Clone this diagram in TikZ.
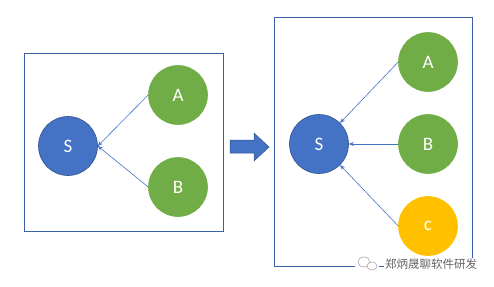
\documentclass[tikz,border=0pt]{standalone}
\usepackage{fontspec}
\setmainfont{Carlito}
\newfontfamily\cjk{Noto Sans CJK SC}
\usetikzlibrary{arrows.meta}
\definecolor{sBlue}{RGB}{68,114,196}
\definecolor{sBlueD}{RGB}{47,82,143}
\definecolor{nGreen}{RGB}{112,173,71}
\definecolor{cYel}{RGB}{255,192,0}
\definecolor{wmGray}{RGB}{100,100,100}

\begin{document}
\begin{tikzpicture}[x=1pt,y=-1pt]
  \tikzset{nd/.style={circle,fill=#1,draw=#1,line width=0.6pt,minimum size=59pt,inner sep=0pt,text=white,font=\fontsize{19}{19}\selectfont},
    sn/.style={nd=sBlue,draw=sBlueD},
    lnk/.style={-{Stealth[length=5pt,width=4pt]},line width=0.6pt,sBlue},
    frame/.style={draw=sBlue!85!black,line width=0.8pt}}
  \useasboundingbox (0,0) rectangle (494,286);
  % left: before
  \draw[frame] (24,53) rectangle (223,231);
  \node[sn] (s1) at (68,146) {S};
  \node[nd=nGreen] (a1) at (178,95) {A};
  \node[nd=nGreen] (b1) at (178,187) {B};
  \draw[lnk] (a1.west) -- (s1.east);
  \draw[lnk] (b1.west) -- (s1.east);
  % block arrow
  \draw[fill=sBlue,draw=sBlueD,line width=0.5pt] (230,140) -- (254,140) -- (254,133) -- (269,147) -- (254,161) -- (254,153) -- (230,153) -- cycle;
  % right: after
  \draw[frame] (274,17) rectangle (472,266);
  \node[sn] (s2) at (319,144) {S};
  \node[nd=nGreen] (a2) at (428,62) {A};
  \node[nd=nGreen] (b2) at (428,144) {B};
  \node[nd=cYel] (c2) at (428,226) {c};
  \draw[lnk] (a2.west) -- (s2.north east);
  \draw[lnk] (b2.west) -- (s2.east);
  \draw[lnk] (c2.west) -- (s2.south east);
  % watermark
  \node[fill=white,inner sep=1pt,text=wmGray,font=\cjk\fontsize{11.5}{12}\selectfont] (wm) at (431,264) {郑炳晟聊软件研发};
  \fill[white] (355,256) rectangle (379,272);
  \draw[wmGray!60,line width=0.6pt] (364,262) ellipse (6pt and 5pt);
  \draw[wmGray!60,line width=0.6pt,fill=white] (372,266) ellipse (5pt and 4pt);
\end{tikzpicture}
\end{document}
